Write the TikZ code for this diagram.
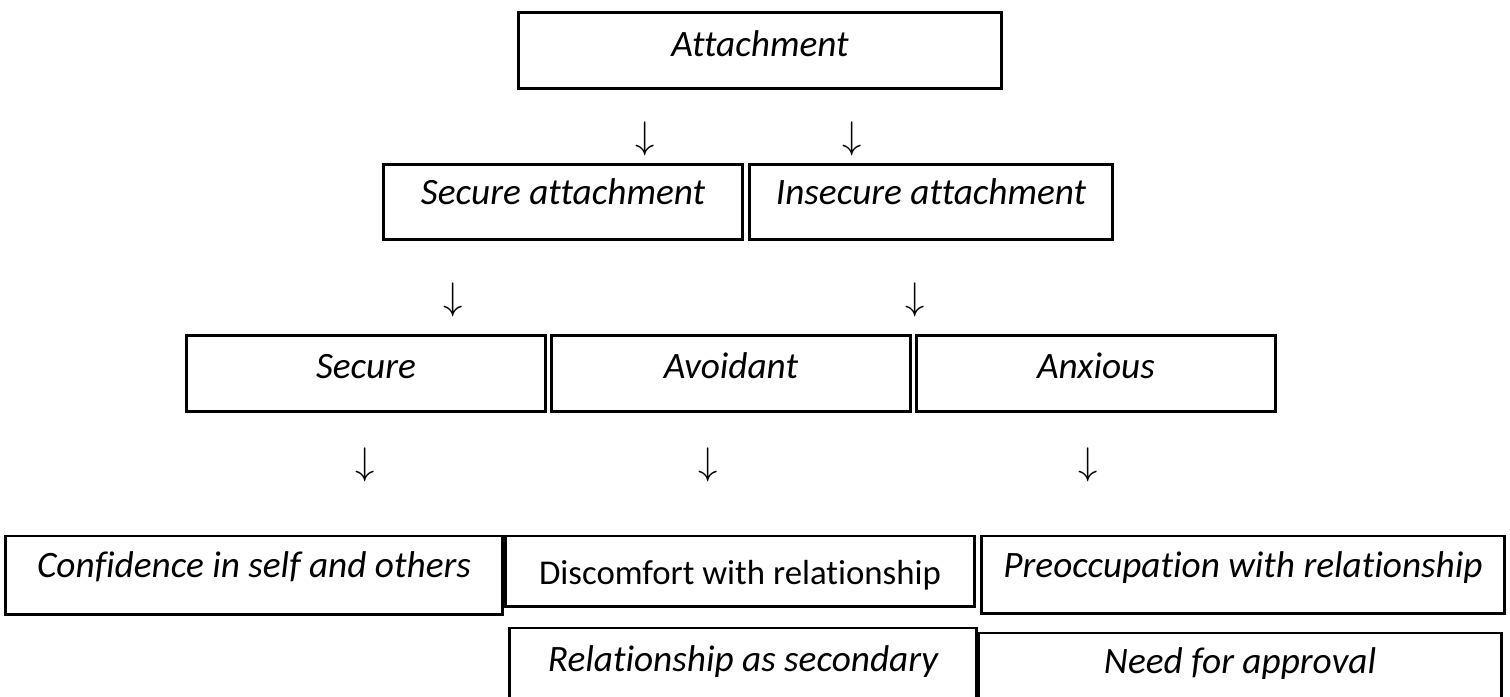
\documentclass[tikz,border=0pt]{standalone}
\usepackage{fontspec}
\setmainfont{Carlito}[Ligatures=CommonOff]
\usepackage{amsmath}

\begin{document}
\begin{tikzpicture}[x=0.01cm, y=-0.01cm,
    box/.style ={draw, line width=0.85pt, inner sep=0pt, anchor=base,
                 font=\fontsize{10.6}{12}\selectfont\itshape},
    down/.style ={inner sep=0pt, font=\fontsize{10.5}{12}\selectfont}]
   \useasboundingbox (0,0) rectangle (1510,696);
   % top
   \node[box, minimum width=4.82cm, text height=0.43cm, text depth=0.32cm] (A) at (760,56) {Attachment};
   \node[down] (dA1) at (645,139) {$\downarrow$};
   \node[down] (dA2) at (852,139) {$\downarrow$};
   % second row
   \node[box, minimum width=3.58cm, text height=0.39cm, text depth=0.35cm] (SA) at (563,204) {Secure attachment};
   \node[box, minimum width=3.62cm, text height=0.39cm, text depth=0.35cm] (IA) at (931,204) {Insecure attachment};
   \node[down] (dS) at (453,300) {$\downarrow$};
   \node[down] (dI) at (915,300) {$\downarrow$};
   % third row
   \node[box, minimum width=3.59cm, text height=0.42cm, text depth=0.33cm] (S) at (366,378) {Secure};
   \node[box, minimum width=3.59cm, text height=0.42cm, text depth=0.33cm] (Av) at (731,378) {Avoidant};
   \node[box, minimum width=3.58cm, text height=0.42cm, text depth=0.33cm] (Ax) at (1096,378) {Anxious};
   \node[down] (d1) at (365,465) {$\downarrow$};
   \node[down] (d2) at (708,465) {$\downarrow$};
   \node[down] (d3) at (1088,465) {$\downarrow$};
   % bottom
   \node[box, minimum width=4.96cm, text height=0.41cm, text depth=0.37cm] (C) at (254,577) {Confidence in self and others};
   \node[box, minimum width=4.68cm, text height=0.48cm, text depth=0.22cm, font=\fontsize{9.9}{11}\selectfont\upshape] (D) at (740,584) {Discomfort with relationship};
   \node[box, minimum width=5.23cm, text height=0.41cm, text depth=0.36cm] (P) at (1243,577) {Preoccupation with relationship};
   \node[box, minimum width=4.66cm, text height=0.43cm, text depth=0.45cm] (R) at (743,671) {Relationship as secondary};
   \node[box, minimum width=5.23cm, text height=0.40cm, text depth=0.45cm] (N) at (1240,673) {Need for approval};
 \end{tikzpicture}
\end{document}
